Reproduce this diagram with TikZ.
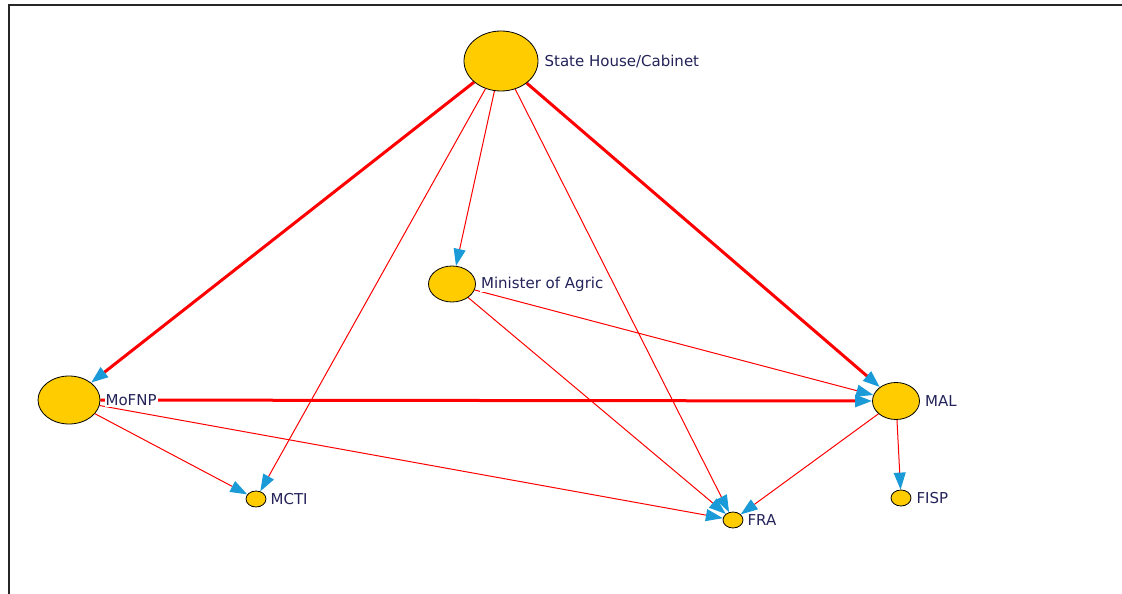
\documentclass[tikz,border=0pt]{standalone}
\usepackage{fontspec}
\setmainfont{DejaVu Sans}
\usetikzlibrary{positioning,shapes.geometric,arrows.meta,backgrounds}
\definecolor{actorfill}{RGB}{255,204,0}
\definecolor{tieblue}{RGB}{26,155,215}
\definecolor{labelnavy}{RGB}{35,35,90}

\begin{document}
\begin{tikzpicture}[x=1pt,y=-1pt]
\tikzstyle{actor}=[ellipse,draw=black,line width=0.8pt,fill=actorfill,inner sep=0pt]
\tikzstyle{lbl}=[text=labelnavy,fill=white,inner sep=1pt,font=\fontsize{15}{17}\selectfont]
\tikzstyle{tie}=[draw=red,line width=1pt,-{Triangle[length=17pt,width=12pt,color=tieblue]}]
\tikzstyle{strong}=[tie,line width=3pt]
\useasboundingbox (0,0) rectangle (1122,594);
\draw[line width=2pt,black!85] (9,594) -- (9,5.5) -- (1122,5.5);
% actors
\node[actor,minimum width=74pt,minimum height=60pt] (sh) at (501,61) {};
\node[actor,minimum width=47pt,minimum height=36pt] (agric) at (452,284) {};
\node[actor,minimum width=62pt,minimum height=48pt] (mofnp) at (69,400) {};
\node[actor,minimum width=47pt,minimum height=37pt] (mal) at (896,401) {};
\node[actor,minimum width=20pt,minimum height=16pt] (mcti) at (256,499) {};
\node[actor,minimum width=20pt,minimum height=16pt] (fra) at (733,520) {};
\node[actor,minimum width=20pt,minimum height=16pt] (fisp) at (901,498) {};
% names
\node[lbl,right=5pt of sh] (shtxt) {State House/Cabinet};
\node[lbl,right=4pt of agric] (agrictxt) {Minister of Agric};
\node[lbl,right=4pt of mofnp] (mofnptxt) {MoFNP};
\node[lbl,right=4pt of mal] (maltxt) {MAL};
\node[lbl,right=3pt of mcti] (mctitxt) {MCTI};
\node[lbl,right=3pt of fra] (fratxt) {FRA};
\node[lbl,right=4pt of fisp] (fisptxt) {FISP};
% ties
\begin{scope}[on background layer]
\draw[strong] (sh) -- (mofnp);
\draw[strong] (sh) -- (mal);
\draw[strong] (mofnp) -- (mal);
\draw[tie] (sh) -- (agric);
\draw[tie] (sh) -- (mcti);
\draw[tie] (sh) -- (fra);
\draw[tie] (mofnp) -- (mcti);
\draw[tie] (mofnp) -- (fra);
\draw[tie] (agric) -- (mal);
\draw[tie] (agric) -- (fra);
\draw[tie] (mal) -- (fra);
\draw[tie] (mal) -- (fisp);
\end{scope}
\end{tikzpicture}
\end{document}
